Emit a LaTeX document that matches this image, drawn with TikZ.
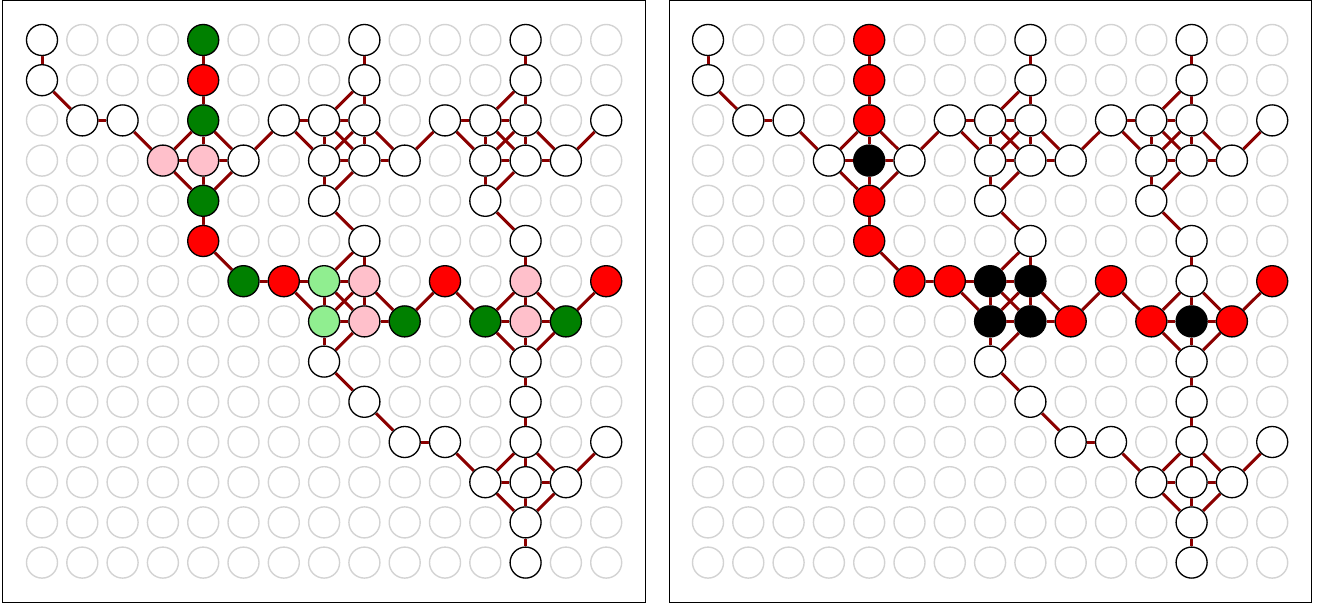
\documentclass[tikz,border=0pt]{standalone}
\usetikzlibrary{backgrounds}
\definecolor{ngreen}{RGB}{0,128,0}
\definecolor{nred}{RGB}{255,0,0}
\definecolor{npink}{RGB}{255,192,203}
\definecolor{nlgreen}{RGB}{144,238,144}
\definecolor{ngray}{RGB}{211,211,211}
\definecolor{edgered}{RGB}{139,0,0}
\tikzset{
  gridc/.style={circle, draw=ngray, line width=1.4pt, minimum size=31pt, inner sep=0pt},
  nd/.style={circle, draw=black, line width=1.3pt, minimum size=31pt, inner sep=0pt},
  ed/.style={draw=edgered, line width=3pt},
  frame/.style={draw=black, line width=1pt}
}
\newcommand\nodesL{0/0/white,0/1/white,1/2/white,2/2/white,3/3/npink,4/0/ngreen,4/1/nred,4/2/ngreen,4/3/npink,4/4/ngreen,4/5/nred,5/3/white,5/6/ngreen,6/6/nred,6/2/white,7/2/white,8/2/white,7/3/white,8/3/white,8/0/white,8/1/white,9/3/white,7/4/white,8/5/white,10/2/white,11/2/white,12/2/white,11/3/white,12/3/white,12/0/white,12/1/white,13/3/white,14/2/white,11/4/white,12/5/white,7/6/nlgreen,8/6/npink,7/7/nlgreen,8/7/npink,9/7/ngreen,7/8/white,10/6/nred,11/7/ngreen,12/6/npink,12/7/npink,13/7/ngreen,14/6/nred,12/8/white,12/9/white,8/9/white,9/10/white,10/10/white,12/10/white,11/11/white,12/11/white,13/11/white,14/10/white,12/12/white,12/13/white}
\newcommand\nodesR{0/0/white,0/1/white,1/2/white,2/2/white,3/3/white,4/0/nred,4/1/nred,4/2/nred,4/3/black,4/4/nred,4/5/nred,5/3/white,5/6/nred,6/6/nred,6/2/white,7/2/white,8/2/white,7/3/white,8/3/white,8/0/white,8/1/white,9/3/white,7/4/white,8/5/white,10/2/white,11/2/white,12/2/white,11/3/white,12/3/white,12/0/white,12/1/white,13/3/white,14/2/white,11/4/white,12/5/white,7/6/black,8/6/black,7/7/black,8/7/black,9/7/nred,7/8/white,10/6/nred,11/7/nred,12/6/white,12/7/black,13/7/nred,14/6/nred,12/8/white,12/9/white,8/9/white,9/10/white,10/10/white,12/10/white,11/11/white,12/11/white,13/11/white,14/10/white,12/12/white,12/13/white}
\newcommand\panelEdges{0/0/0/1,0/1/1/2,1/2/2/2,2/2/3/3,
4/2/3/3,4/2/5/3,3/3/4/4,5/3/4/4,4/2/4/3,4/3/4/4,3/3/4/3,4/3/5/3,
4/0/4/1,4/1/4/2,4/4/4/5,4/5/5/6,5/6/6/6,5/3/6/2,
6/2/7/2,6/2/7/3,8/0/8/1,8/1/8/2,8/1/7/2,7/2/8/2,7/2/7/3,8/2/8/3,7/3/8/3,7/2/8/3,8/2/7/3,8/2/9/3,8/3/9/3,7/3/7/4,8/3/7/4,7/4/8/5,
10/2/11/2,10/2/11/3,12/0/12/1,12/1/12/2,12/1/11/2,11/2/12/2,11/2/11/3,12/2/12/3,11/3/12/3,11/2/12/3,12/2/11/3,12/2/13/3,12/3/13/3,11/3/11/4,12/3/11/4,11/4/12/5,
9/3/10/2,13/3/14/2,
6/6/7/6,6/6/7/7,8/5/7/6,8/5/8/6,7/6/8/6,7/6/7/7,8/6/8/7,7/7/8/7,7/6/8/7,8/6/7/7,8/6/9/7,8/7/9/7,7/7/7/8,8/7/7/8,7/8/8/9,
9/7/10/6,10/6/11/7,
12/6/11/7,12/6/13/7,11/7/12/8,13/7/12/8,12/6/12/7,12/7/12/8,11/7/12/7,12/7/13/7,
12/5/12/6,13/7/14/6,12/8/12/9,
8/9/9/10,9/10/10/10,10/10/11/11,12/9/12/10,
12/10/11/11,12/10/13/11,11/11/12/12,13/11/12/12,12/10/12/11,12/11/12/12,11/11/12/11,12/11/13/11,
13/11/14/10,12/12/12/13}
\newcommand\drawpanel[3]{%
  \begin{scope}[shift={(#2,40)}]
    \foreach \c in {0,...,14} \foreach \r in {0,...,13}
      \node[gridc] (#1g-\c-\r) at (\c*40.3,\r*40.2) {};
    \foreach \c/\r/\col in #3
      \node[nd, fill=\col] (#1-\c-\r) at (\c*40.3,\r*40.2) {};
    \begin{pgfonlayer}{background}
      \foreach \a/\b/\c/\d in \panelEdges
        \draw[ed] (#1-\a-\b) -- (#1-\c-\d);
    \end{pgfonlayer}
  \end{scope}}
\begin{document}
\begin{tikzpicture}[x=1pt,y=-1pt]
  \useasboundingbox (0,0) rectangle (1328,604);
  \draw[frame] (2.5,1) rectangle (645.5,602.5);
  \draw[frame] (669,1) rectangle (1311.5,602.5);
  \drawpanel{L}{42}{\nodesL}
  \drawpanel{R}{708}{\nodesR}
\end{tikzpicture}
\end{document}
